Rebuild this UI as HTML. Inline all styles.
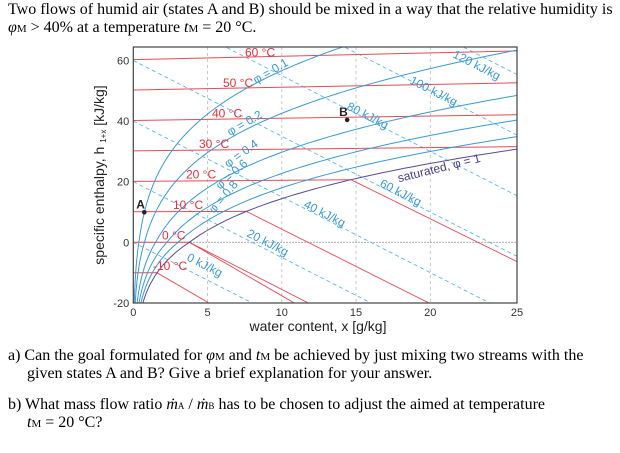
<!DOCTYPE html>
<html style="overflow:hidden"><head><meta charset="utf-8"><style>
body{margin:0;background:#fff;width:620px;height:453px;overflow:hidden;font-family:"Liberation Serif",serif;position:relative}
.t{position:absolute;font-size:16px;line-height:18px;color:#000;white-space:nowrap;left:8px}
</style></head><body>
<div class="t" style="top:1px">Two flows of humid air (states A and B) should be mixed in a way that the relative humidity is</div>
<div class="t" style="top:19px"><i>φ</i><span style="font-size:11px">M</span> &gt; 40% at a temperature <i>t</i><span style="font-size:11px">M</span> = 20 °C.</div>
<div class="t" style="top:347px">a) Can the goal formulated for <i>φ</i><span style="font-size:11px">M</span> and <i>t</i><span style="font-size:11px">M</span> be achieved by just mixing two streams with the</div>
<div class="t" style="top:365px;left:27px">given states A and B? Give a brief explanation for your answer.</div>
<div class="t" style="top:396px">b) What mass flow ratio <i>ṁ</i><span style="font-size:9px">A</span> / <i>ṁ</i><span style="font-size:9px">B</span> has to be chosen to adjust the aimed at temperature</div>
<div class="t" style="top:414px;left:27px"><i>t</i><span style="font-size:11px">M</span> = 20 °C?</div>
<svg id="c" width="620" height="453" style="position:absolute;left:0;top:0"></svg>
<script>
const temps=[-10,0,10,20,30,40,50,60];
const phis=[0.1,0.2,0.4,0.6,0.8];
const enthalpies=[-20,0,20,40,60,80,100,120,140];
const xTicks=[0,5,10,15,20];
const yTicks=[-20,0,20,40,60];
const pointNames=['A','B'];
const pointX=[0.74,14.4];
const pointY=[9.9,40.4];

const NS='http://www.w3.org/2000/svg';
const svg=document.getElementById('c');
const L=133.3,R=517,T=47,B=303;
const XMAX=(R-L)/14.85;
const sx=x=>L+14.85*x;
const sy=y=>242.3-3.03*y;
const P=1013.25;
function ps(t){return t>=0?6.112*Math.exp(17.62*t/(243.12+t)):6.112*Math.exp(22.46*t/(272.62+t));}
function xs(t,phi){const p=phi*ps(t);return 622*p/(P-p);}
function yOf(t,x){return 1.005*t+0.00186*t*x;}
function mk(tag,attrs,parent){const e=document.createElementNS(NS,tag);for(const k in attrs)e.setAttribute(k,attrs[k]);(parent||svg).appendChild(e);return e;}
const defs=mk('defs',{});
const cp=mk('clipPath',{id:'clip'},defs);mk('rect',{x:L,y:T,width:R-L,height:B-T},cp);
const g=mk('g',{'clip-path':'url(#clip)'});


function path(pts){return 'M'+pts.map(p=>sx(p[0]).toFixed(1)+','+sy(p[1]).toFixed(1)).join('L');}
xTicks.slice(1).forEach(v=>{const l=mk('line',{x1:sx(v),x2:sx(v),y1:T,y2:B,stroke:'#bbb','stroke-dasharray':'3,3','stroke-width':0.8},g);

});
const zl=mk('line',{x1:L,x2:R,y1:sy(0),y2:sy(0),stroke:'#888','stroke-dasharray':'1.5,1.5','stroke-width':0.8},g);


enthalpies.forEach(h=>{const e=mk('path',{d:path([[0,h],[XMAX,h-2.501*XMAX]]),stroke:'#5ab8ea',fill:'none','stroke-dasharray':'4,3','stroke-width':0.9},g);

});
temps.forEach(t=>{
  const x0=xs(t,1);const pts=[[0,yOf(t,0)]];
  const xe=Math.min(x0,XMAX);pts.push([xe,yOf(t,xe)]);
  const e=mk('path',{d:path(pts),stroke:'#ea4a55',fill:'none','stroke-width':1},g);
  
  
  if(x0<XMAX){
    const hs=1.005*t+x0*(2501+1.86*t)/1000;
    const fogs=[];
    if(t>=0)fogs.push(4.19*t);
    if(t<=0)fogs.push(-333.4+2.05*t);
    fogs.forEach(c=>{const y1=hs-2.501*x0;const y2=hs+(XMAX-x0)*c/1000-2.501*XMAX;
      const f=mk('path',{d:path([[x0,y1],[XMAX,y2]]),stroke:'#ea4a55',fill:'none','stroke-width':0.9},g);
      
      });
  }
});
function phiPath(phi){const pts=[];for(let t=-30;t<=70;t+=0.5){const x=xs(t,phi);pts.push([x,yOf(t,x)]);}return path(pts);}
phis.forEach(phi=>{const e=mk('path',{d:phiPath(phi),stroke:'#3a9ad8',fill:'none','stroke-width':1},g);

});
const sat=mk('path',{d:phiPath(1),stroke:'#5a4a9a',fill:'none','stroke-width':1},g);


const fr=mk('rect',{x:L,y:T,width:R-L,height:B-T,fill:'none',stroke:'#444','stroke-width':1.2});


function txt(s,x,y,attrs,name){const e=mk('text',Object.assign({x:x,y:y,'font-family':'Liberation Sans, sans-serif','font-size':11},attrs||{}));e.textContent=s;

return e;}
xTicks.forEach(v=>txt(String(v),sx(v),316,{'text-anchor':'middle',fill:'#333'},'x-tick-label'));
txt('25',R,316,{'text-anchor':'middle',fill:'#333'},'x-tick-label');
yTicks.forEach(v=>txt(String(v),L-4,sy(v)+4,{'text-anchor':'end',fill:'#333'},'y-tick-label'));
txt('water content, x [g/kg]',318,331,{'text-anchor':'middle','font-size':14,fill:'#222'},'x-axis-title');
const yt=txt('',104,175,{'text-anchor':'middle','font-size':14,fill:'#222',transform:'rotate(-90 104 175)'},'y-axis-title');
yt.innerHTML='specific enthalpy, h <tspan font-size="8" dy="2">1+x</tspan><tspan dy="-2"> [kJ/kg]</tspan>';
const tLabX=[153,162,173,186,199,212,223,245];
temps.forEach((t,i)=>txt(t+' °C',tLabX[i],sy(yOf(t,0))-3,{fill:'#e8303c','font-size':12},'isotherm-label'));
const rhLab=[[256,84,-30],[230,136,-30],[228,168,-36],[220,190,-42],[214,214,-50]];
phis.forEach((phi,i)=>{const [x,y,a]=rhLab[i];txt('φ = '+phi,x,y,{fill:'#3a9ad8','font-size':12,transform:`rotate(${a} ${x} ${y})`},'rh-label');});
txt('saturated, φ = 1',440,172,{fill:'#4a3d8f','font-size':12,'text-anchor':'middle',transform:'rotate(-14 440 172)'},'saturation-label');
const hLab=[[0,186,260],[20,246,236],[40,303,207],[60,379,186],[80,346,109],[100,409,83],[120,452,57]];
hLab.forEach(([h,x,y])=>txt(h+' kJ/kg',x,y,{fill:'#3a9ad8','font-size':12,transform:`rotate(27 ${x} ${y})`},'isenthalp-label'));
pointNames.forEach((n,i)=>{const c=mk('circle',{cx:sx(pointX[i]),cy:sy(pointY[i]),r:2.3,fill:'#222'});


txt(n,sx(pointX[i])-8,sy(pointY[i])-4,{'font-weight':'bold',fill:'#222','font-size':12},'state-label-'+n);});
</script>
</body></html>
